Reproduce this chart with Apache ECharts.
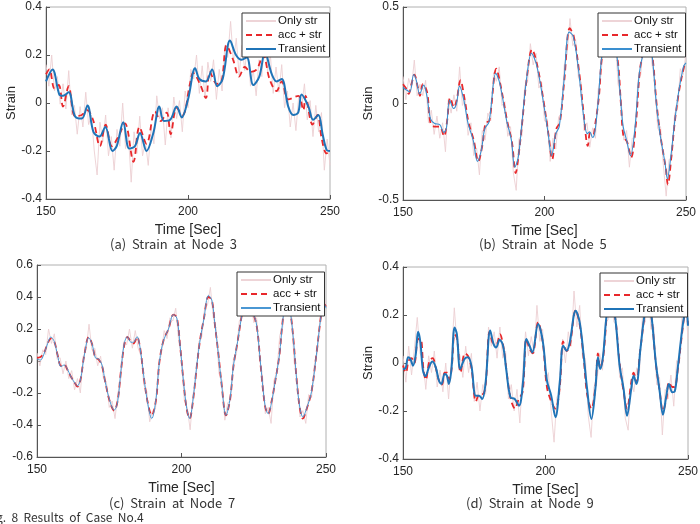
<!DOCTYPE html>
<html>
<head>
<meta charset="utf-8">
<script src="https://cdn.jsdelivr.net/npm/echarts@6/dist/echarts.min.js"></script>
<style>
html, body { margin: 0; padding: 0; background: #fff; }
#chart { width: 700px; height: 524px; }
</style>
</head>
<body>
<div id="chart"></div>
<script>
// "Only str" is sampled every second from 150 to 250 s
const seconds = [];
for (let t = 150; t <= 250; t++) seconds.push(t);

const xTicks = [150, 200, 250];
const captions = ['(a)  Strain  at  Node  3', '(b)  Strain  at  Node  5', '(c)  Strain  at  Node  7', '(d)  Strain  at  Node  9'];

// ---- (a) Node 3
const strA = [
  0.16, 0.07, 0.20, 0.05, 0.11, -0.005, 0.08, -0.025, 0.135, -0.05,
  -0.01, -0.13, -0.015, -0.10, 0.045, -0.09, -0.05, -0.20, -0.30, -0.08,
  -0.16, -0.05, -0.22, -0.14, -0.28, -0.11, -0.18, 0, -0.19, -0.13,
  -0.33, -0.12, -0.21, -0.055, -0.22, -0.16, -0.26, -0.10, -0.17, 0.03,
  -0.065, -0.02, -0.175, -0.02, -0.145, 0.025, -0.065, 0.01, -0.12, 0.05,
  -0.02, 0.14, 0.10, 0.20, 0.04, 0.155, 0.02, 0.17, 0.09, 0.18,
  0.015, 0.14, 0.05, 0.24, 0.19, 0.34, 0.17, 0.27, 0.115, 0.24,
  0.135, 0.26, 0.07, 0.135, 0.03, 0.18, 0.11, 0.28, 0.13, 0.20,
  0.04, 0.15, 0.045, 0.16, -0.02, 0.05, -0.10, 0, -0.115, 0.03,
  -0.015, 0.08, -0.07, 0.01, -0.14, -0.01, -0.12, -0.04, -0.28, -0.15,
  -0.26
];
const accA = [
  [150, 0.12], [151.2, 0.14], [153, 0.06], [154.5, 0.075], [156, -0.015], [158, 0.07], [160.2, -0.055],
  [162.6, -0.05], [164.5, -0.03], [166.7, -0.075], [169, -0.18], [171, -0.09], [173.2, -0.18], [175.5, -0.14],
  [177.8, -0.085], [180.8, -0.245], [182.9, -0.1], [185.4, -0.17], [188.4, -0.035], [190.4, -0.075], [192.5, -0.04],
  [193.9, -0.13], [196, -0.02], [198.1, -0.05], [200.7, 0.08], [201.8, 0.125], [204.2, 0.08], [206.3, 0.02],
  [207.7, 0.13], [210.1, 0.08], [211.8, 0.09], [213.6, 0.24], [215.9, 0.18], [218, 0.11], [220, 0.15],
  [222, 0.13], [224.2, 0.14], [226.5, 0.2], [228.7, 0.1], [231.2, 0.05], [233, 0.09], [235.3, 0.015],
  [238.9, 0.03], [240.6, -0.03], [241.4, 0.03], [243.8, -0.09], [245.6, -0.05], [247.1, -0.15], [248.8, -0.21], [250, -0.2]
];
const transA = [
  [150, 0.09], [152.3, 0.14], [154.7, 0.035], [156, 0.03], [158, 0.045], [160.2, -0.055], [162.6, -0.065],
  [164.6, -0.01], [166.7, -0.12], [168.8, -0.14], [170.9, -0.1], [173.4, -0.2], [174.9, -0.18], [177.2, -0.08],
  [179.3, -0.19], [181.3, -0.18], [183.1, -0.125], [185.4, -0.2], [187.8, -0.125], [189.9, -0.015], [191.5, -0.075],
  [193.7, -0.07], [196, -0.015], [197.8, -0.06], [200.1, 0.02], [202.5, 0.145], [204, 0.1], [206.3, 0.09],
  [208.5, 0.14], [210.3, 0.07], [212.2, 0.1], [214.8, 0.26], [216.9, 0.2], [218.9, 0.18], [220.7, 0.19],
  [223, 0.075], [225.1, 0.11], [227.1, 0.21], [229.5, 0.12], [231.2, 0.09], [233, 0.1], [235.3, -0.015],
  [237.1, -0.05], [238.8, -0.04], [240, 0.035], [242.4, -0.015], [244.1, -0.07], [245.9, -0.05], [247.4, -0.13],
  [248.8, -0.195], [250, -0.2]
];

// ---- (b) Node 5
const strB = [
  0.14, 0.02, 0.13, 0.08, 0.225, 0.04, 0.10, 0.04, 0.12, -0.10,
  -0.035, -0.16, -0.065, -0.18, -0.10, -0.25, 0.02, -0.05, 0.045, -0.04,
  0.19, -0.01, 0.02, -0.165, -0.10, -0.27, -0.23, -0.37, -0.14, -0.19,
  -0.05, -0.09, 0.16, 0.115, 0.19, -0.01, 0.01, -0.17, -0.12, -0.36,
  -0.45, -0.18, -0.17, 0.09, 0.11, 0.31, 0.20, 0.26, 0.08, 0.11,
  -0.09, -0.08, -0.30, -0.18, -0.236, -0.07, -0.05, 0.20, 0.26, 0.44,
  0.30, 0.33, 0.13, 0.11, -0.14, -0.10, -0.227, -0.126, -0.18, 0.077,
  0.15, 0.37, 0.30, 0.41, 0.27, 0.34, 0.10, 0.04, -0.19, -0.14,
  -0.33, -0.18, -0.18, 0.12, 0.15, 0.33, 0.26, 0.36, 0.20, 0.11,
  -0.13, -0.12, -0.32, -0.48, -0.29, -0.28, -0.05, -0.03, 0.18, 0.15,
  0.26
];
const accB = [
  [150, 0.1], [151, 0.08], [152, 0.05], [153, 0.1], [154, 0.15], [155.3, 0.08], [156, 0.04], [157, 0.1],
  [158.5, 0.06], [159.7, -0.1], [161.2, -0.12], [163, -0.12], [164.5, -0.17], [165.5, -0.1], [166.7, 0.03],
  [168, -0.02], [169, 0.02], [170.3, 0.12], [171.8, 0.02], [173.2, -0.1], [175, -0.19], [176.6, -0.3],
  [178, -0.22], [179.2, -0.1], [180.5, -0.09], [183, 0.18], [184.4, 0.1], [186.8, -0.09], [188.5, -0.2],
  [189.8, -0.36], [191, -0.25], [192.1, -0.1], [193.8, 0.14], [195.6, 0.28], [197.4, 0.2], [199.7, 0.01],
  [201.5, -0.17], [202.7, -0.29], [204.2, -0.13], [205.4, -0.1], [207, 0.12], [208.9, 0.39], [210.3, 0.35],
  [212.1, 0.18], [213.9, -0.06], [215.3, -0.22], [216.2, -0.15], [217.2, -0.16], [218, -0.1], [219.2, 0.03],
  [220.6, 0.27], [223, 0.36], [225.6, 0.25], [227, 0], [227.9, -0.17], [229.2, -0.2], [230.6, -0.28],
  [232.2, -0.12], [233.7, 0.17], [235, 0.27], [236.5, 0.33], [238, 0.26], [239.6, 0], [241, -0.17],
  [242.8, -0.33], [243.6, -0.42], [244.8, -0.28], [246, -0.1], [247.5, 0.06], [249.3, 0.19], [250, 0.21]
];
const transB = [
  [150, 0.083], [151.2, 0.07], [152.4, 0.06], [153.8, 0.15], [154.7, 0.12], [155.9, 0.05], [157.3, 0.095],
  [158.5, 0.035], [159.7, -0.078], [161.2, -0.104], [163, -0.11], [164.4, -0.15], [165.3, -0.13], [166.5, 0.017],
  [167.9, -0.026], [168.9, 0], [170, 0.09], [171.5, 0.017], [173, -0.104], [174.8, -0.19], [176.3, -0.3],
  [177.7, -0.24], [178.9, -0.13], [180.4, -0.095], [182.8, 0.156], [184.2, 0.104], [186.6, -0.087], [188.3, -0.19],
  [189.5, -0.33], [190.7, -0.28], [191.9, -0.12], [193.6, 0.12], [195.4, 0.26], [197.2, 0.2], [199.5, 0.017],
  [201.3, -0.156], [202.5, -0.27], [204, -0.156], [205.2, -0.12], [206.8, 0.104], [208.7, 0.37], [210.1, 0.35],
  [211.9, 0.19], [213.7, -0.052], [215.1, -0.156], [216, -0.147], [217, -0.176], [217.8, -0.147], [219, 0.017],
  [220.4, 0.26], [222.6, 0.36], [224.2, 0.33], [225.5, 0.26], [226.9, 0.017], [227.8, -0.12], [229, -0.19],
  [230.4, -0.27], [232, -0.12], [233.5, 0.156], [234.9, 0.26], [236.4, 0.31], [237.9, 0.26], [239.4, 0.017],
  [240.8, -0.156], [242.6, -0.31], [243.4, -0.39], [244.6, -0.28], [245.8, -0.12], [247.3, 0.05], [249.1, 0.19], [250, 0.21]
];

// ---- (c) Node 7
const strC = [
  0.05, -0.03, 0.07, 0.04, 0.2, 0.11, 0.17, 0.01, 0.02, -0.08,
  0, -0.11, -0.06, -0.18, -0.11, -0.2, 0.03, 0.07, 0.23, 0.07,
  0.08, -0.03, 0.03, -0.11, -0.13, -0.29, -0.25, -0.36, -0.2, -0.11,
  0.12, 0.1, 0.2, 0.08, 0.19, 0.08, 0.03, -0.15, -0.19, -0.38,
  -0.31, -0.3, -0.03, 0.04, 0.19, 0.14, 0.27, 0.25, 0.33, 0.13,
  0.01, -0.25, -0.29, -0.43, -0.21, -0.11, 0.12, 0.15, 0.33, 0.35,
  0.46, 0.27, 0.2, -0.08, -0.12, -0.37, -0.26, -0.25, 0.02, 0.04,
  0.25, 0.28, 0.42, 0.33, 0.37, 0.24, 0.27, 0.01, -0.09, -0.33,
  -0.29, -0.39, -0.12, -0.07, 0.16, 0.21, 0.43, 0.34, 0.3, -0.01,
  -0.11, -0.35, -0.31, -0.39, -0.21, -0.23, -0.02, 0.05, 0.28, 0.31,
  0.38
];
const accC = [
  [150, 0.02], [151.2, 0.025], [152.3, 0.045], [153.5, 0.1], [154.8, 0.14], [156, 0.12], [157.1, 0.04],
  [158.3, -0.03], [159.4, -0.02], [160.4, -0.05], [161.8, -0.1], [163.2, -0.14], [164, -0.16], [165, -0.12],
  [166.4, 0.04], [167.9, 0.15], [169, 0.11], [170.2, 0.02], [171.3, 0.01], [172.5, -0.03], [173.6, -0.13],
  [175.3, -0.26], [176.7, -0.31], [177.9, -0.25], [179, -0.07], [180.2, 0.1], [181.3, 0.15], [182.5, 0.12],
  [183.4, 0.11], [184.6, 0.15], [185.7, 0.08], [186.9, -0.09], [188.2, -0.25], [189.7, -0.34], [191.2, -0.24],
  [192.4, 0], [193.8, 0.13], [195.5, 0.2], [197.2, 0.29], [198.4, 0.27], [199.5, 0.1], [200.7, -0.13],
  [201.8, -0.3], [202.8, -0.36], [203.9, -0.26], [205.3, -0.03], [206.5, 0.14], [207.8, 0.27], [209.3, 0.4],
  [210.5, 0.38], [211.6, 0.22], [212.8, 0.04], [213.9, -0.15], [215.4, -0.34], [216.8, -0.24], [218, -0.03],
  [219.4, 0.12], [220.9, 0.29], [222, 0.38], [224, 0.33], [226, 0.22], [227.4, -0.03], [228.9, -0.28],
  [230, -0.33], [231.2, -0.25], [232.4, -0.13], [233.9, 0.04], [235, 0.25], [236.3, 0.4], [237.6, 0.31],
  [238.7, 0.14], [239.9, -0.13], [241, -0.3], [242, -0.36], [243.3, -0.3], [245, -0.19], [246.8, 0.06],
  [248.5, 0.31], [249.3, 0.36], [250, 0.34]
];
const transC = [
  [150, 0.013], [151.2, 0.006], [152.3, 0.038], [153.5, 0.1], [154.8, 0.15], [156, 0.12], [157.1, 0.038],
  [158.3, -0.035], [159.4, -0.025], [160.4, -0.046], [161.8, -0.1], [163.2, -0.14], [164, -0.155], [165, -0.12],
  [166.4, 0.038], [167.9, 0.146], [169, 0.11], [170.2, 0.02], [171.3, 0.013], [172.5, -0.025], [173.6, -0.13],
  [175.3, -0.255], [176.7, -0.307], [177.9, -0.255], [179, -0.067], [180.2, 0.11], [181.3, 0.152], [182.5, 0.117],
  [183.4, 0.117], [184.6, 0.152], [185.7, 0.08], [186.9, -0.088], [188.2, -0.255], [189.7, -0.36], [191.2, -0.234],
  [192.4, 0], [193.8, 0.13], [195.5, 0.2], [197.2, 0.29], [198.4, 0.267], [199.5, 0.1], [200.7, -0.13],
  [201.8, -0.296], [202.8, -0.36], [203.9, -0.255], [205.3, -0.025], [206.5, 0.14], [207.8, 0.267], [209.3, 0.41],
  [210.5, 0.38], [211.6, 0.225], [212.8, 0.038], [213.9, -0.15], [215.4, -0.34], [216.8, -0.234], [218, -0.025],
  [219.4, 0.12], [220.9, 0.29], [222, 0.38], [223.5, 0.36], [224.8, 0.3], [226, 0.225], [227.4, -0.025],
  [228.9, -0.276], [230, -0.33], [231.2, -0.255], [232.4, -0.13], [233.9, 0.038], [235, 0.246], [236.3, 0.4],
  [237.6, 0.31], [238.7, 0.14], [239.9, -0.13], [241, -0.296], [242, -0.35], [243.3, -0.296], [245, -0.19],
  [246.8, 0.058], [248.5, 0.31], [249.3, 0.36], [250, 0.33]
];

// ---- (d) Node 9
const strD = [
  0.03, -0.08, 0.07, -0.05, 0.06, 0.19, 0.04, 0.01, -0.11, 0.03,
  -0.04, 0.05, -0.1, -0.03, -0.12, 0, -0.15, 0.02, 0.23, 0.07,
  0.03, -0.06, 0.07, -0.04, 0.04, -0.16, -0.08, -0.2, -0.09, -0.13,
  0.15, 0.07, 0.13, 0.02, 0.15, 0.02, 0.05, -0.15, -0.09, -0.2,
  -0.11, -0.25, -0.04, 0.13, 0.03, 0.11, 0.04, 0.24, 0.09, 0.14,
  -0.08, -0.04, -0.2, -0.33, -0.14, -0.13, 0.1, 0, 0.13, 0.07,
  0.3, 0.15, 0.24, 0.02, 0.02, -0.22, -0.31, -0.1, -0.08, 0.04,
  -0.03, 0.17, 0.18, 0.32, 0.17, 0.16, -0.06, -0.02, -0.23, -0.28,
  -0.07, -0.12, -0.02, -0.03, 0.19, 0.17, 0.32, 0.14, 0.15, -0.09,
  -0.06, -0.3, -0.11, -0.15, -0.05, -0.18, 0.01, 0, 0.22, 0.27,
  0.1
];
const accD = [
  [150, -0.01], [151, -0.04], [152, 0.01], [153, 0.02], [154, 0], [155.3, 0.1], [156.2, 0.1], [157.2, -0.03],
  [158, -0.07], [159.3, 0.01], [160.4, 0.02], [161.5, -0.02], [162.8, -0.08], [163.7, -0.09], [164.6, -0.04],
  [165.5, -0.04], [166.3, -0.07], [167.1, -0.02], [168.1, 0.12], [169, 0.1], [170.2, -0.04], [171.7, 0.04],
  [172.8, 0.03], [174, -0.02], [175.6, -0.16], [176.8, -0.13], [177.9, -0.13], [179, -0.09], [180.4, 0.13],
  [181.8, 0.08], [182.8, 0.08], [184, 0.12], [185.2, 0.07], [186.3, -0.03], [187.8, -0.15], [189.3, -0.19],
  [190.6, -0.15], [192, -0.12], [193.3, 0.1], [194.4, 0.06], [195.5, 0.04], [197.4, 0.17], [199.1, 0.08],
  [200.5, -0.1], [202, -0.16], [203.5, -0.19], [205, -0.1], [206.2, 0.09], [207.4, 0.05], [208.5, 0.07],
  [210.6, 0.22], [212, 0.16], [213.4, 0.02], [214.6, -0.13], [216.1, -0.19], [217.5, -0.1], [218.4, 0.04],
  [219.2, -0.02], [220.2, 0.02], [222.5, 0.26], [224.3, 0.2], [226, 0], [227.4, -0.12], [228.6, -0.19],
  [230.1, -0.08], [230.9, -0.04], [231.9, -0.08], [233.3, 0.06], [235.9, 0.24], [237.1, 0.2], [238.7, 0],
  [240.1, -0.12], [241.2, -0.2], [242.4, -0.15], [243.3, -0.08], [244.5, -0.1], [245.3, -0.1], [246.5, -0.02],
  [247.7, 0.1], [248.8, 0.2], [249.4, 0.21], [250, 0.16]
];
const transD = [
  [150, -0.025], [150.9, -0.022], [151.8, 0.024], [152.6, 0.017], [153.5, -0.011], [154.4, 0.03], [155.3, 0.13],
  [156.1, 0.086], [157, -0.032], [157.9, -0.055], [159.1, -0.018], [160.3, 0.006], [161.5, -0.018], [162.6, -0.073],
  [163.5, -0.087], [164.6, -0.046], [165.4, -0.053], [166.1, -0.087], [167, -0.025], [168.1, 0.148], [168.9, 0.12],
  [170.1, -0.025], [171.6, 0.017], [172.8, 0.024], [174, -0.011], [175.5, -0.136], [176.7, -0.136], [177.8, -0.15],
  [179, -0.08], [180.6, 0.135], [181.8, 0.079], [182.7, 0.065], [183.9, 0.097], [185.1, 0.072], [186.2, -0.025],
  [187.7, -0.143], [189.2, -0.15], [190.7, -0.178], [192.1, -0.08], [193.3, 0.1], [194.4, 0.072], [195.4, 0.044],
  [197.4, 0.162], [199.1, 0.086], [200.5, -0.073], [202, -0.136], [203.5, -0.226], [205, -0.08], [206.2, 0.072],
  [207.4, 0.051], [208.5, 0.086], [210.6, 0.218], [212, 0.169], [213.4, 0.03], [214.6, -0.108], [216.1, -0.233],
  [217.5, -0.108], [218.4, 0.024], [219.2, -0.025], [220.2, 0.03], [221.5, 0.204], [222.8, 0.26], [224.3, 0.204],
  [226, -0.011], [227.4, -0.108], [228.6, -0.22], [230.1, -0.108], [230.9, -0.053], [231.9, -0.087], [233.3, 0.058],
  [234.8, 0.204], [236, 0.25], [237.1, 0.204], [238.7, 0.003], [240.1, -0.122], [241.2, -0.216], [242.4, -0.136],
  [243.3, -0.087], [244.5, -0.122], [245.3, -0.12], [246.5, -0.011], [247.7, 0.114], [248.8, 0.204], [249.4, 0.21], [250, 0.155]
];

const yRanges = [[-0.4, 0.4, 0.2], [-0.5, 0.5, 0.5], [-0.6, 0.6, 0.2], [-0.4, 0.4, 0.2]];

const chart = echarts.init(document.getElementById('chart'), null, { renderer: 'canvas' });

const grids = [
  { left: 46, top: 7, width: 284, height: 192 },
  { left: 403, top: 7, width: 283, height: 193 },
  { left: 37, top: 265, width: 289, height: 192 },
  { left: 403, top: 267, width: 285, height: 192 }
];
const legendPos = [
  { left: 242, top: 13 }, { left: 598, top: 13 }, { left: 237, top: 272 }, { left: 600, top: 273 }
];
const blueWidth = [2, 1.1, 1, 2];
const blueColor = ['#1f74b8', '#3a8fd0', '#4a97d3', '#1f74b8'];
const strainGap = [28, 28, 36, 28];

const axisFont = 'Liberation Sans, Arial, sans-serif';
const panels = [
  [strA, accA, transA], [strB, accB, transB], [strC, accC, transC], [strD, accD, transD]
];

const series = [];
const legends = [];
panels.forEach((p, i) => {
  const tag = '#' + i;
  series.push({
    name: 'Only str' + tag, type: 'line', xAxisIndex: i, yAxisIndex: i,
    data: seconds.map((t, k) => [t, p[0][k]]),
    symbol: 'none', z: 1,
    lineStyle: { color: '#eccfd3', width: 1, opacity: 0.9 },
    itemStyle: { color: '#eccfd3' }
  });
  series.push({
    name: 'acc + str' + tag, type: 'line', xAxisIndex: i, yAxisIndex: i,
    data: p[1], smooth: 0.35, symbol: 'none', z: 2,
    lineStyle: { color: '#e8282b', width: 1.8, type: [6, 4] },
    itemStyle: { color: '#e8282b' }
  });
  series.push({
    name: 'Transient' + tag, type: 'line', xAxisIndex: i, yAxisIndex: i,
    data: p[2], smooth: 0.35, symbol: 'none', z: 3,
    lineStyle: { color: blueColor[i], width: blueWidth[i] },
    itemStyle: { color: blueColor[i] }
  });
  legends.push({
    ...legendPos[i],
    orient: 'vertical',
    data: ['Only str' + tag, 'acc + str' + tag, 'Transient' + tag],
    formatter: n => n.split('#')[0],
    selectedMode: false,
    itemWidth: 30, itemHeight: 8, itemGap: 2,
    padding: [2, 4, 2, 3],
    itemStyle: { opacity: 0 },
    backgroundColor: '#fff', borderColor: '#333', borderWidth: 1,
    textStyle: { fontFamily: axisFont, fontSize: 11.5, color: '#111', padding: [0, 0, 0, -3] }
  });
});

const option = {
  animation: false,
  backgroundColor: '#fff',
  grid: grids.map(g => ({
    ...g, show: true, borderColor: '#b0b0b0', borderWidth: 1, backgroundColor: '#fff',
    containLabel: false, outerBoundsMode: 'none'
  })),
  xAxis: grids.map((g, i) => ({
    gridIndex: i, type: 'value', min: 150, max: 250, interval: 50,
    name: 'Time [Sec]', nameLocation: 'middle', nameGap: 24,
    nameTextStyle: { fontFamily: axisFont, fontSize: 14, color: '#262626' },
    axisLine: { onZero: false, lineStyle: { color: '#555' } },
    axisTick: { inside: true, length: 4, lineStyle: { color: '#555' } },
    axisLabel: { fontFamily: axisFont, fontSize: 12, color: '#262626', margin: 7 },
    splitLine: { show: false }
  })),
  yAxis: grids.map((g, i) => ({
    gridIndex: i, type: 'value', min: yRanges[i][0], max: yRanges[i][1], interval: yRanges[i][2],
    name: 'Strain', nameLocation: 'middle', nameGap: strainGap[i],
    nameTextStyle: { fontFamily: axisFont, fontSize: 13, color: '#262626' },
    axisLine: { show: true, lineStyle: { color: '#555' } },
    axisTick: { show: true, inside: true, length: 4, lineStyle: { color: '#555' } },
    axisLabel: { fontFamily: axisFont, fontSize: 12, color: '#262626', margin: 4 },
    splitLine: { show: false }
  })),
  legend: legends,
  series: series,
  graphic: [
    { type: 'text', left: 110, top: 238, style: { text: captions[0], font: '13px "Noto Sans CJK KR", sans-serif', fill: '#333' } },
    { type: 'text', left: 479, top: 238, style: { text: captions[1], font: '13px "Noto Sans CJK KR", sans-serif', fill: '#333' } },
    { type: 'text', left: 109, top: 497, style: { text: captions[2], font: '13px "Noto Sans CJK KR", sans-serif', fill: '#333' } },
    { type: 'text', left: 466, top: 497, style: { text: captions[3], font: '13px "Noto Sans CJK KR", sans-serif', fill: '#333' } },
    { type: 'text', left: -14, top: 511, style: { text: 'Fig.  8  Results  of  Case  No.4', font: '12px "Noto Sans CJK KR", sans-serif', fill: '#333' } }
  ]
};

chart.setOption(option);
</script>
</body>
</html>
